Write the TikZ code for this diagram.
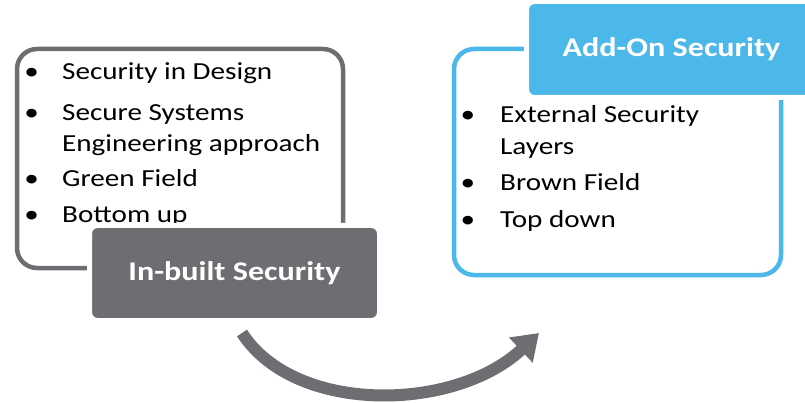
\documentclass[tikz,border=0pt]{standalone}
\usepackage{fontspec}
\setmainfont{Carlito}[FakeStretch=1.19]
\usetikzlibrary{arrows.meta}
\definecolor{slate}{HTML}{6D6E71}
\definecolor{sky}{HTML}{4BB8E9}
\begin{document}
\begin{tikzpicture}[x=1pt,y=-1pt,
  item/.style={anchor=base west, inner sep=0pt, font=\fontsize{24.5}{30}\selectfont},
  dot/.style={anchor=base, inner sep=0pt, font=\fontsize{24.5}{30}\selectfont},
  frame/.style={draw, line width=4.5pt, rounded corners=20pt, inner sep=0pt},
  tab/.style={draw=white, line width=5pt, rounded corners=8pt, text=white,
    font=\bfseries\fontsize{27}{32}\selectfont, minimum width=290pt, inner sep=0pt}]
\clip (0,0) rectangle (805,403);

% outlined frames
\node[frame, draw=slate, minimum width=326pt, minimum height=219pt] (inframe) at (180,158.5) {};
\node[frame, draw=sky, minimum width=327pt, minimum height=226pt] (addframe) at (617.5,162) {};

% left list
\node[dot] (lb1) at (31.7,80) {•};
\node[item] (l1) at (62,80) {Security in Design};
\node[dot] (lb2) at (31.7,121) {•};
\node[item] (l2a) at (62,121) {Secure Systems};
\node[item] (l2b) at (62,152) {Engineering approach};
\node[dot] (lb3) at (31.7,187) {•};
\node[item] (l3) at (62,187) {Green Field};
\node[dot] (lb4) at (31.7,223) {•};
\node[item] (l4) at (62,223) {Bottom up};

% right list
\node[dot] (rb1) at (468,123) {•};
\node[item] (r1a) at (500,123) {External Security};
\node[item] (r1b) at (500,155) {Layers};
\node[dot] (rb2) at (468,191) {•};
\node[item] (r2) at (500,191) {Brown Field};
\node[dot] (rb3) at (468,228) {•};
\node[item] (r3) at (500,228) {Top down};

% title tabs
\node[tab, fill=slate, minimum height=95pt] (inbuilt) at (234.5,273) {In-built Security};
\node[tab, fill=sky, minimum height=96pt] (addon) at (671.5,49.5) {Add-On Security};

% curved arrow between the two approaches
\coordinate (a0) at (242,333);
\coordinate (a1) at (539,333);
\draw[slate, line width=12pt, -{Triangle[length=25pt,width=33pt]}]
  (a0) .. controls (295,415) and (455,412) .. (a1);
\end{tikzpicture}
\end{document}
